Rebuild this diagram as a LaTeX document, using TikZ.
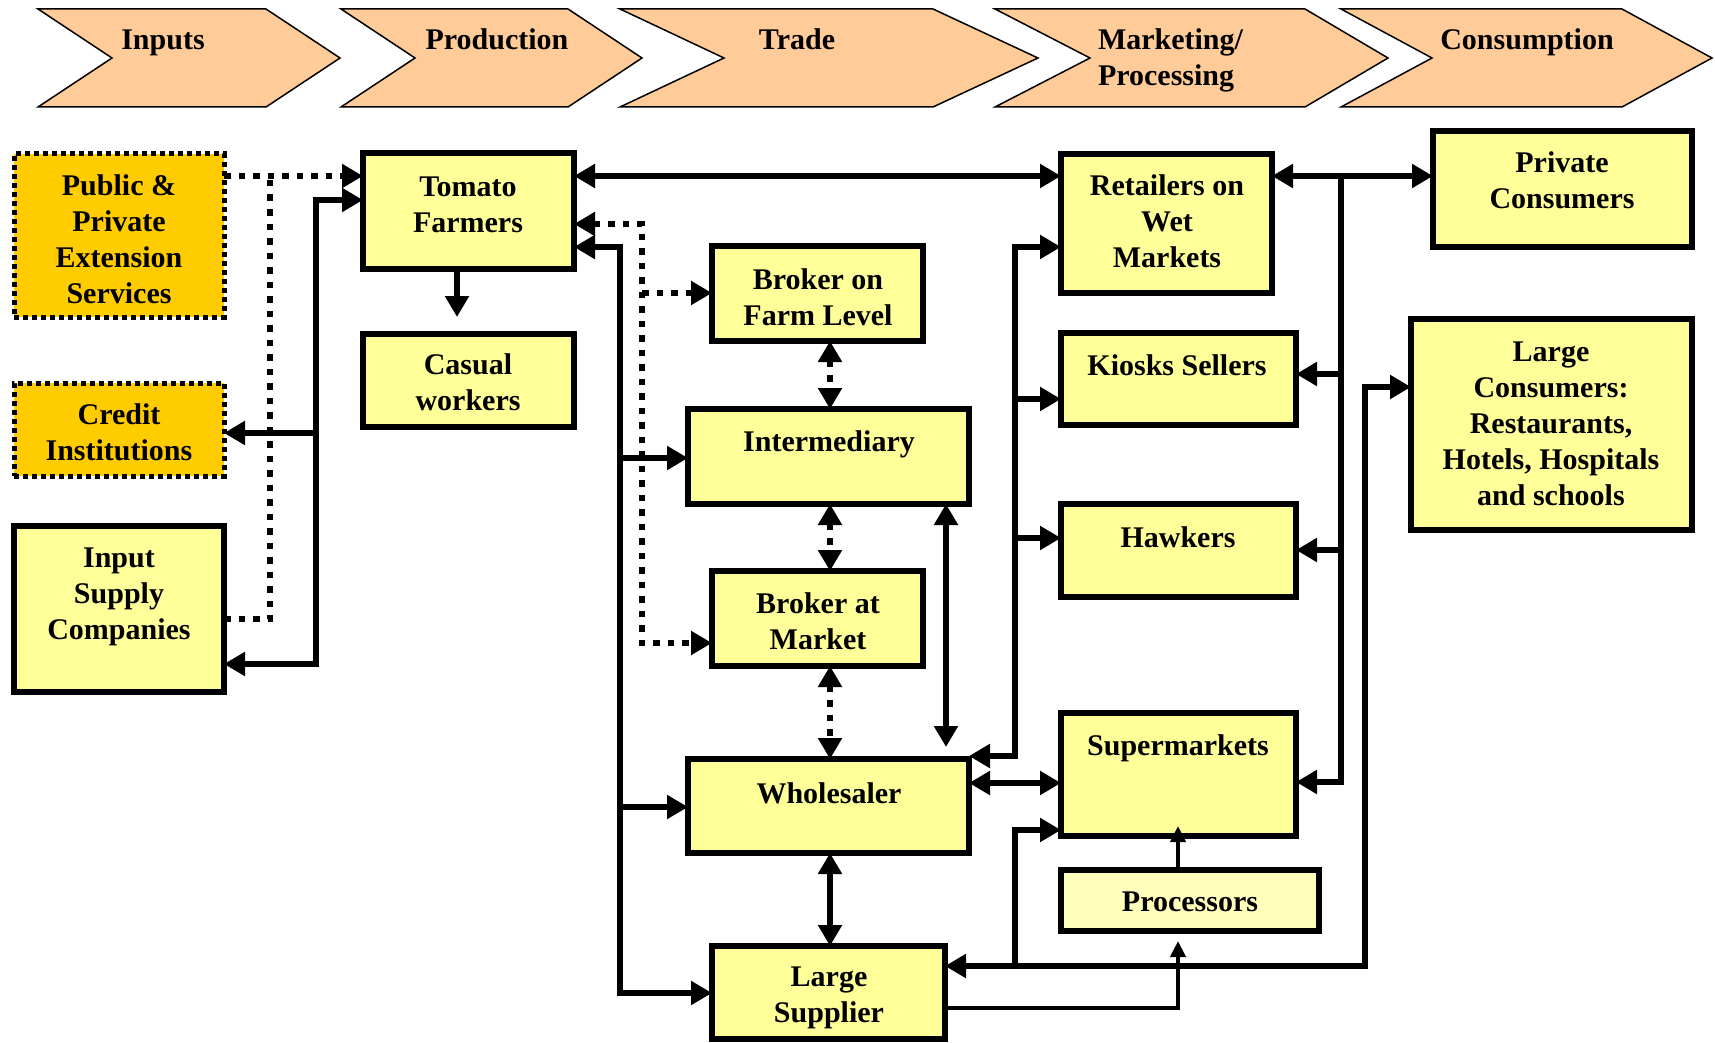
\documentclass[tikz,border=0pt]{standalone}
\usepackage{fontspec}
\setmainfont{Liberation Serif}
\usetikzlibrary{arrows.meta,fit}
\definecolor{boxyellow}{HTML}{FFFF99}
\definecolor{boxorange}{HTML}{FFCC00}
\definecolor{chevfill}{HTML}{FFCC99}
\definecolor{procfill}{HTML}{FFFFBB}
\begin{document}
\begin{tikzpicture}[x=1pt,y=-1pt,
  every node/.style={inner sep=0pt, outer sep=0pt},
  ybox/.style={draw, line width=5.5pt, fill=boxyellow},
  obox/.style={draw, line width=5pt, fill=boxorange, dash pattern=on 5pt off 4pt},
  pbox/.style={draw, line width=5.5pt, fill=procfill},
  txt/.style={font=\fontsize{30}{36}\selectfont\bfseries, align=center},
  conn/.style={draw, line width=6.5pt, line join=miter},
  dotc/.style={draw, line width=6.5pt, dash pattern=on 6.5pt off 8pt},
  thinc/.style={draw, line width=4.5pt, line join=miter, -{Triangle[length=16pt,width=15pt]}},
  chev/.style={draw, line width=1.5pt, fill=chevfill, line join=miter},
  >={Triangle[length=21pt,width=23pt]}]
\fill[white] (0,0) rectangle (1715,1043);
\useasboundingbox (0,0) rectangle (1715,1043);
% chevrons
\draw[chev] (38,9) -- (266,9) -- (340,58) -- (266,107) -- (38,107) -- (112,58) -- cycle;
\draw[chev] (341,9) -- (568,9) -- (642,58) -- (568,107) -- (341,107) -- (415,58) -- cycle;
\draw[chev] (620,9) -- (933,9) -- (1038,58) -- (933,107) -- (620,107) -- (724,58) -- cycle;
\draw[chev] (995,9) -- (1305,9) -- (1388,58) -- (1305,107) -- (995,107) -- (1090,58) -- cycle;
\draw[chev] (1341,9) -- (1622,9) -- (1712,58) -- (1622,107) -- (1341,107) -- (1432,58) -- cycle;
\node[txt, anchor=base] (h1) at (163,50) {Inputs};
\node[txt, anchor=base] (h2) at (497,50) {Production};
\node[txt, anchor=base] (h3) at (797,50) {Trade};
\node[txt, anchor=west, align=left] (h4) at (1098,60) {Marketing/\\Processing};
\node[txt, anchor=base] (h5) at (1527,50) {Consumption};
% boxes
\node[obox, fit={(14,154)(224,317)}] (ppes) {};
\node[obox, fit={(14,383)(224,476)}] (cred) {};
\node[ybox, fit={(14,526)(224,692)}] (isc) {};
\node[ybox, fit={(363,153)(574,269)}] (tf) {};
\node[ybox, fit={(363,334)(574,427)}] (cw) {};
\node[ybox, fit={(712,246)(923,341)}] (bf) {};
\node[ybox, fit={(688,409)(969,504)}] (im) {};
\node[ybox, fit={(712,571)(923,666)}] (bm) {};
\node[ybox, fit={(688,759)(969,853)}] (ws) {};
\node[ybox, fit={(712,946)(945,1039)}] (ls) {};
\node[ybox, fit={(1061,154)(1272,293)}] (ret) {};
\node[ybox, fit={(1061,333)(1296,425)}] (ks) {};
\node[ybox, fit={(1061,504)(1296,597)}] (hk) {};
\node[ybox, fit={(1061,713)(1296,836)}] (sm) {};
\node[pbox, fit={(1061,870)(1319,931)}] (pr) {};
\node[ybox, fit={(1433,131)(1692,247)}] (pc) {};
\node[ybox, fit={(1411,319)(1692,530)}] (lc) {};
% texts
\node[txt] (ppes-t) at (119,239) {Public \&\\Private\\Extension\\Services};
\node[txt] (cred-t) at (119,432) {Credit\\Institutions};
\node[txt] (isc-t) at (119,597) {Input\\Supply\\Companies};
\node[txt] (tf-t) at (468,205) {Tomato\\Farmers};
\node[txt] (cw-t) at (468,382) {Casual\\workers};
\node[txt] (bf-t) at (818,297) {Broker on\\Farm Level};
\node[txt] (im-t) at (829,444) {Intermediary};
\node[txt] (bm-t) at (818,621) {Broker at\\Market};
\node[txt] (ws-t) at (829,793) {Wholesaler};
\node[txt] (ls-t) at (829,998) {Large\\Supplier};
\node[txt] (ret-t) at (1167,221) {Retailers on\\Wet\\Markets};
\node[txt] (ks-t) at (1177,365) {Kiosks Sellers};
\node[txt] (hk-t) at (1178,537) {Hawkers};
\node[txt] (sm-t) at (1178,748) {Supermarkets};
\node[txt] (pr-t) at (1190,902) {Processors};
\node[txt] (pc-t) at (1562,180) {Private\\Consumers};
\node[txt] (lc-t) at (1551,424) {Large\\Consumers:\\Restaurants,\\Hotels, Hospitals\\and schools};
% connectors: inputs side
\draw[dotc,->] (ppes.east |- 0,176) -- (tf.west |- 0,176);
\draw[dotc] (isc.east |- 0,619) -- (270,619) -- (270,176);
\draw[conn,<->] (isc.east |- 0,664) -- (316,664) -- (316,200) -- (tf.west |- 0,200);
\draw[conn,->] (316,433) -- (cred.east |- 0,433);
\draw[conn,->] (tf.south -| 457,0) -- (457,317);
\draw[conn,<->] (tf.east |- 0,176) -- (ret.west |- 0,176);
% trade
\draw[dotc,<->] (tf.east |- 0,224) -- (642,224) -- (642,643) -- (bm.west |- 0,643);
\draw[dotc,->] (642,293) -- (bf.west |- 0,293);
\draw[conn,<->] (tf.east |- 0,247) -- (620,247) -- (620,993) -- (ls.west |- 0,993);
\draw[conn,->] (620,458) -- (im.west |- 0,458);
\draw[conn,->] (620,807) -- (ws.west |- 0,807);
\draw[dotc,<->] (bf.south -| 830,0) -- (im.north -| 830,0);
\draw[dotc,<->] (im.south -| 830,0) -- (bm.north -| 830,0);
\draw[dotc,<->] (bm.south -| 830,0) -- (ws.north -| 830,0);
\draw[conn,<->] (ws.south -| 830,0) -- (ls.north -| 830,0);
\coordinate (imdown) at (946,747);
\draw[conn,<->] (im.south -| 946,0) -- (imdown);
\draw[conn,<->] (ws.east |- 0,783) -- (sm.west |- 0,783);
% marketing
\draw[conn,<->] (ret.west |- 0,247) -- (1015,247) -- (1015,756) -- (ws.east |- 0,756);
\draw[conn,->] (1015,399) -- (ks.west |- 0,399);
\draw[conn,->] (1015,538) -- (hk.west |- 0,538);
\draw[conn,<->] (ret.east |- 0,176) -- (pc.west |- 0,176);
\draw[conn,->] (1341,176) -- (1341,782) -- (sm.east |- 0,782);
\draw[conn,->] (1341,374) -- (ks.east |- 0,374);
\draw[conn,->] (1341,550) -- (hk.east |- 0,550);
\draw[conn,<->] (lc.west |- 0,387) -- (1365,387) -- (1365,966) -- (ls.east |- 0,966);
\draw[conn,->] (1015,966) -- (1015,830) -- (sm.west |- 0,830);
\coordinate (prbelow) at (1178,941);
\draw[thinc] (ls.east |- 0,1008) -- (1178,1008) -- (prbelow);
\coordinate (smin) at (1178,826);
\draw[thinc] (pr.north -| 1178,0) -- (smin);
\end{tikzpicture}
\end{document}
